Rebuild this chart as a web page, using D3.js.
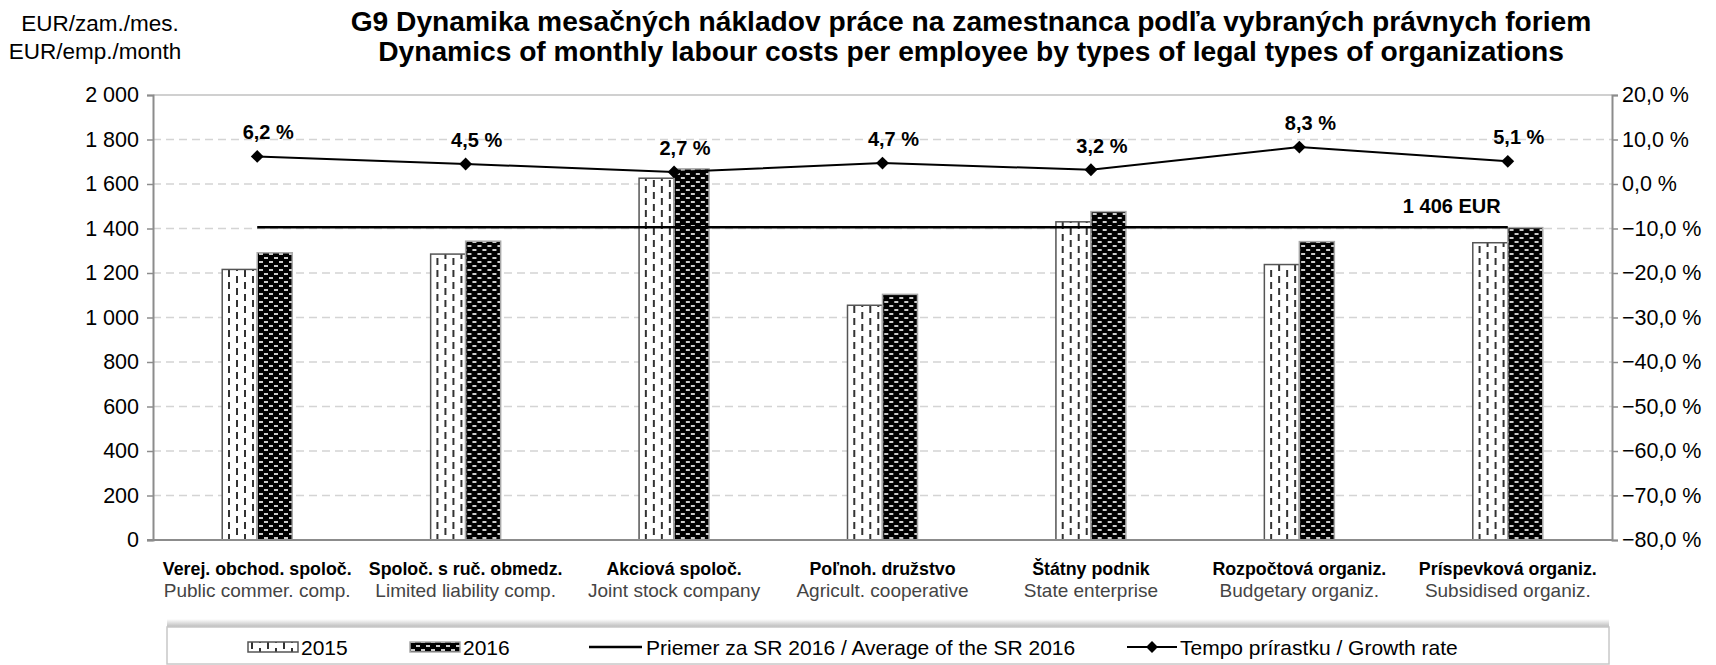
<!DOCTYPE html>
<html>
<head>
<meta charset="utf-8">
<script src="https://cdn.jsdelivr.net/npm/d3@7"></script>
<style>
  html, body { margin: 0; padding: 0; background: #fff; }
  svg { display: block; font-family: "Liberation Sans", Arial, sans-serif; }
</style>
</head>
<body>
<script>
// data
const categoriesSk = ["Verej. obchod. spoloč.", "Spoloč. s ruč. obmedz.", "Akciová spoloč.", "Poľnoh. družstvo", "Štátny podnik", "Rozpočtová organiz.", "Príspevková organiz."];
const categoriesEn = ["Public commer. comp.", "Limited liability comp.", "Joint stock company", "Agricult. cooperative", "State enterprise", "Budgetary organiz.", "Subsidised organiz."];
const costs2015 = [1216, 1285, 1626, 1055, 1430, 1238, 1336];
const costs2016 = [1291, 1343, 1668, 1104, 1476, 1341, 1404];
const growthRates = [6.2, 4.5, 2.7, 4.7, 3.2, 8.3, 5.1];
const average2016 = 1406;
const leftTicks = [0, 200, 400, 600, 800, 1000, 1200, 1400, 1600, 1800, 2000];
const rightTicks = [-80, -70, -60, -50, -40, -30, -20, -10, 0, 10, 20];
const years = ["2015", "2016"];

const width = 1716;
const height = 665;
const margin = { top: 95, right: 104, bottom: 125, left: 153 };

const svg = d3.select("body").append("svg")
    .attr("width", width)
    .attr("height", height);

const defs = svg.append("defs");
// 2015: white with vertical dashes
const p1 = defs.append("pattern").attr("id", "pat2015")
    .attr("patternUnits", "userSpaceOnUse").attr("width", 16).attr("height", 12);
p1.append("rect").attr("width", 16).attr("height", 12).attr("fill", "#fff");
p1.append("rect").attr("x", 3).attr("y", 0).attr("width", 2).attr("height", 7).attr("fill", "#333");
p1.append("rect").attr("x", 11).attr("y", 6).attr("width", 2).attr("height", 6).attr("fill", "#333");
p1.append("rect").attr("x", 11).attr("y", 0).attr("width", 2).attr("height", 1).attr("fill", "#333");
// 2016: black with small white dashes
const p2 = defs.append("pattern").attr("id", "pat2016")
    .attr("patternUnits", "userSpaceOnUse").attr("width", 10).attr("height", 8);
p2.append("rect").attr("width", 10).attr("height", 8).attr("fill", "#000");
p2.append("rect").attr("x", 1).attr("y", 1.2).attr("width", 4).attr("height", 1.6).attr("fill", "#fff");
p2.append("rect").attr("x", 6).attr("y", 5.2).attr("width", 4).attr("height", 1.6).attr("fill", "#fff");

const shadow = defs.append("linearGradient").attr("id", "legShadow")
    .attr("x1", 0).attr("y1", 0).attr("x2", 0).attr("y2", 1);
shadow.append("stop").attr("offset", "0%").attr("stop-color", "#fff");
shadow.append("stop").attr("offset", "100%").attr("stop-color", "#bbb");

const x = d3.scaleBand()
    .domain(categoriesSk)
    .range([margin.left, width - margin.right]);
const barW = 35;
const xSub = d3.scaleBand()
    .domain(years)
    .range([x.bandwidth() / 2 - barW, x.bandwidth() / 2 + barW]);

const y = d3.scaleLinear()
    .domain([0, 2000])
    .range([height - margin.bottom, margin.top]);
const y2 = d3.scaleLinear()
    .domain([-80, 20])
    .range([height - margin.bottom, margin.top]);

const fmtEur = (d) => d3.format(",")(d).replace(/,/g, " ");
const fmtPct = (d) => d3.format(".1f")(d).replace(".", ",") + " %";

// gridlines
svg.append("g")
    .selectAll("line")
    .data(leftTicks.filter((d) => d > 0 && d < 2000))
    .join("line")
    .attr("x1", margin.left).attr("x2", width - margin.right)
    .attr("y1", (d) => y(d)).attr("y2", (d) => y(d))
    .attr("stroke", "#d4d4d4").attr("stroke-width", 1.5)
    .attr("stroke-dasharray", "8,5");
svg.append("line")
    .attr("x1", margin.left).attr("x2", width - margin.right)
    .attr("y1", y(2000)).attr("y2", y(2000))
    .attr("stroke", "#d0d0d0").attr("stroke-width", 2);

// bars
const groups = svg.append("g")
    .selectAll("g")
    .data(categoriesSk.map((c, i) => ({ cat: c, vals: [costs2015[i], costs2016[i]] })))
    .join("g")
    .attr("transform", (d) => `translate(${x(d.cat)},0)`);
groups.selectAll("rect")
    .data((d) => d.vals.map((v, j) => ({ year: years[j], v })))
    .join("rect")
    .attr("x", (d) => xSub(d.year))
    .attr("y", (d) => y(d.v))
    .attr("width", xSub.bandwidth())
    .attr("height", (d) => y(0) - y(d.v))
    .attr("fill", (d) => `url(#pat${d.year})`)
    .attr("stroke", (d) => d.year === "2015" ? "#555" : "#a8a8a8")
    .attr("stroke-width", 1.5);

// axes
const yAxisL = d3.axisLeft(y).tickValues(leftTicks).tickFormat(fmtEur).tickSize(6).tickPadding(8);
const yAxisR = d3.axisRight(y2).tickValues(rightTicks).tickFormat(fmtPct).tickSize(6).tickPadding(4);
const gL = svg.append("g").attr("transform", `translate(${margin.left},0)`).call(yAxisL);
const gR = svg.append("g").attr("transform", `translate(${width - margin.right},0)`).call(yAxisR);
[gL, gR].forEach((g) => {
    g.select(".domain").attr("stroke", "#8c8c8c").attr("stroke-width", 2);
    g.selectAll(".tick line").attr("stroke", "#8c8c8c").attr("stroke-width", 1.5);
    g.selectAll(".tick text").attr("font-size", 21.5).attr("fill", "#000")
        .attr("font-family", "Liberation Sans, Arial, sans-serif");
});
svg.append("line")
    .attr("x1", margin.left - 6).attr("x2", width - margin.right)
    .attr("y1", y(0)).attr("y2", y(0))
    .attr("stroke", "#8c8c8c").attr("stroke-width", 2);

// category labels
const catLabels = svg.append("g").selectAll("g")
    .data(categoriesSk.map((c, i) => ({ sk: c, en: categoriesEn[i] })))
    .join("g")
    .attr("transform", (d) => `translate(${x(d.sk) + x.bandwidth() / 2},0)`);
catLabels.append("text")
    .attr("y", y(0) + 35).attr("text-anchor", "middle")
    .attr("font-size", 17.8).attr("font-weight", "bold")
    .text((d) => d.sk);
catLabels.append("text")
    .attr("y", y(0) + 57).attr("text-anchor", "middle")
    .attr("font-size", 19).attr("fill", "#444")
    .text((d) => d.en);

// average line
const cx = (i) => x(categoriesSk[i]) + x.bandwidth() / 2;
svg.append("line")
    .attr("x1", cx(0)).attr("x2", cx(categoriesSk.length - 1))
    .attr("y1", y(average2016)).attr("y2", y(average2016))
    .attr("stroke", "#000").attr("stroke-width", 2.5);
svg.append("text")
    .attr("x", cx(categoriesSk.length - 1) - 56).attr("y", y(average2016) - 14)
    .attr("text-anchor", "middle").attr("font-size", 20).attr("font-weight", "bold")
    .text(`${fmtEur(average2016)} EUR`);

// growth line
const line = d3.line().x((d, i) => cx(i)).y((d) => y2(d));
svg.append("path").datum(growthRates)
    .attr("d", line).attr("fill", "none").attr("stroke", "#000").attr("stroke-width", 2);
const diamond = d3.symbol().type(d3.symbolDiamond2).size(105);
svg.append("g").selectAll("path")
    .data(growthRates)
    .join("path")
    .attr("d", diamond)
    .attr("transform", (d, i) => `translate(${cx(i)},${y2(d)})`)
    .attr("fill", "#000");
svg.append("g").selectAll("text")
    .data(growthRates)
    .join("text")
    .attr("x", (d, i) => cx(i) + 11)
    .attr("y", (d) => y2(d) - 17)
    .attr("text-anchor", "middle").attr("font-size", 20).attr("font-weight", "bold")
    .text(fmtPct);

// titles
const title = svg.append("text").attr("text-anchor", "middle").attr("font-weight", "bold").attr("font-size", 28.2);
title.append("tspan").attr("x", 971).attr("y", 31).text("G9 Dynamika mesačných nákladov práce na zamestnanca podľa vybraných právnych foriem");
title.append("tspan").attr("x", 971).attr("y", 61).text("Dynamics of monthly labour costs per employee by types of legal types of organizations");
const unit = svg.append("text").attr("text-anchor", "middle").attr("font-size", 22.5);
unit.append("tspan").attr("x", 100).attr("y", 31).text("EUR/zam./mes.");
unit.append("tspan").attr("x", 95).attr("y", 59).text("EUR/emp./month");

// legend
const legY = 627;
svg.append("rect").attr("x", 167).attr("y", legY - 8).attr("width", 1442).attr("height", 8).attr("fill", "url(#legShadow)");
svg.append("rect").attr("x", 167).attr("y", legY).attr("width", 1442).attr("height", 37)
    .attr("fill", "#fff").attr("stroke", "#c8c8c8").attr("stroke-width", 1.5);
const legMid = legY + 20;
const legend = svg.append("g").attr("font-size", 21);
[{ year: "2015", x0: 248 }, { year: "2016", x0: 410 }].forEach((d) => {
    legend.append("rect").attr("x", d.x0).attr("y", legMid - 5).attr("width", 50).attr("height", 10)
        .attr("fill", `url(#pat${d.year})`).attr("stroke", d.year === "2015" ? "#555" : "#a8a8a8").attr("stroke-width", 1.5);
    legend.append("text").attr("x", d.x0 + 53).attr("y", legMid + 7.5).text(d.year);
});
legend.append("line").attr("x1", 589).attr("x2", 642).attr("y1", legMid).attr("y2", legMid)
    .attr("stroke", "#000").attr("stroke-width", 2.5);
legend.append("text").attr("x", 646).attr("y", legMid + 7.5).text("Priemer za SR 2016 / Average of the SR 2016");
legend.append("line").attr("x1", 1127).attr("x2", 1177).attr("y1", legMid).attr("y2", legMid)
    .attr("stroke", "#000").attr("stroke-width", 2);
legend.append("path").attr("d", d3.symbol().type(d3.symbolDiamond2).size(90))
    .attr("transform", `translate(1152,${legMid})`).attr("fill", "#000");
legend.append("text").attr("x", 1180).attr("y", legMid + 7.5).text("Tempo prírastku / Growth rate");
</script>
</body>
</html>
